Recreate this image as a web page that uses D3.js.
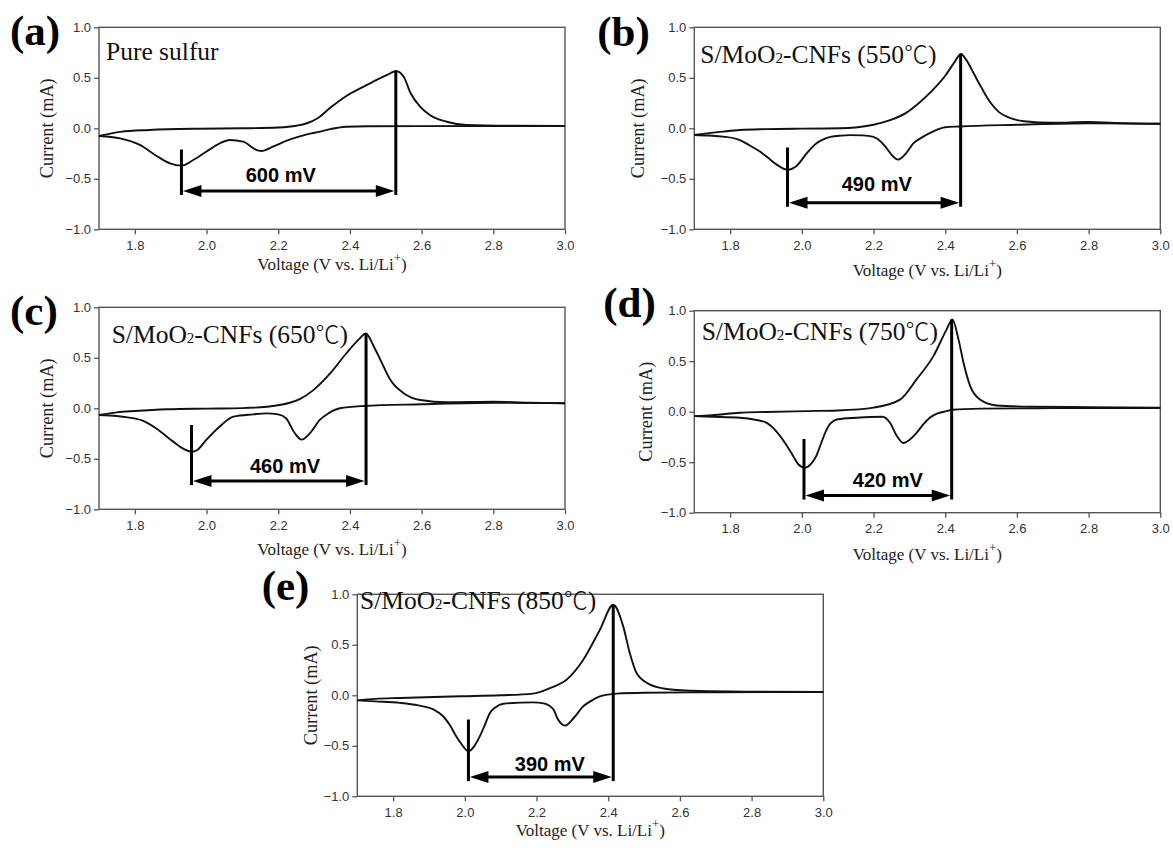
<!DOCTYPE html>
<html>
<head>
  <meta charset="utf-8">
  <title>CV curves</title>
  <script src="https://d3js.org/d3.v7.min.js"></script>
  <style>
    body { margin: 0; background: #fff; }
  </style>
</head>
<body>
  <script>
  // data: [voltage V, current mA]
  var xTicks = [1.8, 2.0, 2.2, 2.4, 2.6, 2.8, 3.0];
  var yTicks = [-1.0, -0.5, 0.0, 0.5, 1.0];
  var letters = ["(a)", "(b)", "(c)", "(d)", "(e)"];
  var samples = ["Pure sulfur", "550", "650", "750", "850"];
  var gapLabels = ["600 mV", "490 mV", "460 mV", "420 mV", "390 mV"];
  // [reduction peak V, oxidation peak V, arrow current, left tick top, label V, label current]
  var gaps = [
    [1.930, 2.528, -0.62, -0.21, 2.207, -0.53],
    [1.960, 2.443, -0.737, -0.19, 2.209, -0.617],
    [1.958, 2.445, -0.72, -0.165, 2.219, -0.64],
    [2.006, 2.418, -0.83, -0.27, 2.240, -0.745],
    [2.010, 2.414, -0.81, -0.24, 2.237, -0.75]
  ];

  var anodicA = [[1.70,-0.076],[1.76,-0.035],[1.84,-0.017],[1.98,-0.004],[2.10,0.0],[2.20,0.008],[2.25,0.025],[2.28,0.05],[2.31,0.1],[2.344,0.2],[2.39,0.32],[2.437,0.41],[2.483,0.495],[2.51,0.54],[2.528,0.567],[2.55,0.51],[2.569,0.35],[2.597,0.21],[2.624,0.13],[2.67,0.065],[2.725,0.033],[2.85,0.025],[3.0,0.023]];
  var cathodicA = [[3.0,0.023],[2.6,0.022],[2.45,0.02],[2.39,0.015],[2.35,-0.005],[2.317,-0.033],[2.28,-0.06],[2.255,-0.085],[2.222,-0.125],[2.185,-0.182],[2.153,-0.225],[2.14,-0.215],[2.102,-0.132],[2.065,-0.116],[2.037,-0.149],[2.0,-0.23],[1.963,-0.314],[1.93,-0.37],[1.898,-0.347],[1.861,-0.274],[1.814,-0.165],[1.759,-0.1],[1.70,-0.076]];

  var anodicB = [[1.70,-0.066],[1.78,-0.033],[1.827,-0.017],[1.90,-0.008],[2.0,-0.003],[2.106,0.0],[2.15,0.008],[2.20,0.035],[2.246,0.08],[2.29,0.15],[2.33,0.26],[2.36,0.36],[2.40,0.52],[2.425,0.65],[2.444,0.735],[2.46,0.67],[2.48,0.54],[2.50,0.41],[2.525,0.26],[2.55,0.16],[2.575,0.11],[2.62,0.07],[2.70,0.055],[2.80,0.062],[2.90,0.05],[3.0,0.045]];
  var cathodicB = [[3.0,0.045],[2.8,0.05],[2.6,0.035],[2.44,0.018],[2.40,0.01],[2.367,-0.03],[2.34,-0.08],[2.311,-0.15],[2.29,-0.25],[2.269,-0.31],[2.25,-0.26],[2.237,-0.2],[2.22,-0.13],[2.20,-0.085],[2.17,-0.07],[2.134,-0.068],[2.11,-0.072],[2.08,-0.085],[2.06,-0.11],[2.04,-0.15],[2.013,-0.25],[1.986,-0.37],[1.96,-0.41],[1.93,-0.36],[1.905,-0.29],[1.883,-0.23],[1.855,-0.17],[1.827,-0.116],[1.78,-0.082],[1.74,-0.072],[1.70,-0.066]];

  var anodicC = [[1.70,-0.066],[1.75,-0.04],[1.80,-0.027],[1.89,-0.01],[2.0,-0.003],[2.10,0.002],[2.20,0.03],[2.26,0.09],[2.298,0.18],[2.346,0.35],[2.39,0.545],[2.427,0.69],[2.444,0.74],[2.467,0.61],[2.485,0.48],[2.513,0.28],[2.55,0.15],[2.597,0.082],[2.67,0.06],[2.80,0.065],[2.90,0.055],[3.0,0.05]];
  var cathodicC = [[3.0,0.05],[2.8,0.055],[2.6,0.04],[2.44,0.023],[2.372,0.0],[2.34,-0.05],[2.316,-0.115],[2.29,-0.24],[2.265,-0.31],[2.245,-0.24],[2.222,-0.1],[2.20,-0.06],[2.167,-0.05],[2.13,-0.06],[2.075,-0.083],[2.037,-0.18],[2.0,-0.31],[1.975,-0.41],[1.958,-0.43],[1.935,-0.4],[1.907,-0.33],[1.86,-0.2],[1.82,-0.12],[1.78,-0.09],[1.75,-0.076],[1.70,-0.066]];

  var anodicD = [[1.70,-0.044],[1.75,-0.035],[1.827,-0.01],[1.90,-0.003],[2.014,0.006],[2.10,0.012],[2.20,0.04],[2.274,0.12],[2.32,0.32],[2.367,0.55],[2.404,0.815],[2.42,0.914],[2.437,0.716],[2.451,0.485],[2.47,0.25],[2.497,0.12],[2.543,0.062],[2.636,0.05],[2.80,0.045],[3.0,0.04]];
  var cathodicD = [[3.0,0.035],[2.7,0.035],[2.5,0.03],[2.42,0.02],[2.404,0.006],[2.377,-0.02],[2.357,-0.06],[2.34,-0.12],[2.32,-0.21],[2.30,-0.28],[2.283,-0.31],[2.265,-0.24],[2.246,-0.11],[2.225,-0.05],[2.153,-0.06],[2.10,-0.075],[2.088,-0.093],[2.075,-0.14],[2.065,-0.21],[2.052,-0.33],[2.04,-0.44],[2.025,-0.52],[2.009,-0.555],[1.99,-0.52],[1.976,-0.44],[1.955,-0.32],[1.939,-0.24],[1.92,-0.16],[1.902,-0.11],[1.87,-0.08],[1.827,-0.06],[1.75,-0.05],[1.70,-0.044]];

  var anodicE = [[1.70,-0.05],[1.75,-0.035],[1.82,-0.026],[1.99,-0.01],[2.10,0.0],[2.19,0.017],[2.237,0.07],[2.284,0.155],[2.33,0.35],[2.377,0.65],[2.414,0.896],[2.442,0.68],[2.46,0.42],[2.479,0.22],[2.517,0.105],[2.563,0.063],[2.657,0.043],[2.80,0.036],[3.0,0.033]];
  var cathodicE = [[3.0,0.033],[2.7,0.03],[2.5,0.025],[2.424,0.017],[2.377,-0.01],[2.35,-0.06],[2.33,-0.11],[2.305,-0.22],[2.28,-0.3],[2.26,-0.24],[2.247,-0.14],[2.22,-0.08],[2.19,-0.07],[2.107,-0.083],[2.085,-0.12],[2.07,-0.175],[2.055,-0.3],[2.042,-0.405],[2.025,-0.51],[2.01,-0.555],[1.99,-0.48],[1.975,-0.4],[1.959,-0.3],[1.94,-0.21],[1.912,-0.14],[1.87,-0.1],[1.819,-0.075],[1.75,-0.06],[1.70,-0.05]];

  var anodic = [anodicA, anodicB, anodicC, anodicD, anodicE];
  var cathodic = [cathodicA, cathodicB, cathodicC, cathodicD, cathodicE];

  // page layout (plot-area corner of each panel, label offsets)
  var W = 466, H = 202;
  var layout = [
    {left: 99, top: 27.3, letterDx: -89, letterDy: 18, titleDx: 7, titleDy: 33, ylabDx: -52, xlabDy: 41},
    {left: 694.3, top: 27.3, letterDx: -97, letterDy: 19, titleDx: 6, titleDy: 36, ylabDx: -57, xlabDy: 47},
    {left: 99, top: 307.3, letterDx: -89, letterDy: 18, titleDx: 12.7, titleDy: 36, ylabDx: -52, xlabDy: 46},
    {left: 694.3, top: 310.7, letterDx: -91, letterDy: 6, titleDx: 7.4, titleDy: 29, ylabDx: -49, xlabDy: 47},
    {left: 357.3, top: 594.3, letterDx: -95.6, letterDy: 6, titleDx: 2.7, titleDy: 15, ylabDx: -47, xlabDy: 40}
  ];

  var serif = "'Liberation Serif', 'Times New Roman', serif";
  var sans = "'Liberation Sans', Arial, sans-serif";

  var svg = d3.select("body").append("svg").attr("width", 1173).attr("height", 850);

  var x = d3.scaleLinear().domain([1.7, 3.0]).range([0, W]);
  var y = d3.scaleLinear().domain([-1, 1]).range([H, 0]);
  var line = d3.line().x(function(d) { return x(d[0]); }).y(function(d) { return y(d[1]); }).curve(d3.curveMonotoneX);

  layout.forEach(function(L, k) {
    var g = svg.append("g").attr("transform", "translate(" + L.left + "," + L.top + ")");

    // axes
    var ax = g.append("g").attr("transform", "translate(0," + H + ")")
      .call(d3.axisBottom(x).tickValues(xTicks).tickFormat(d3.format(".1f")).tickSize(5).tickSizeOuter(0).tickPadding(6));
    var ay = g.append("g")
      .call(d3.axisLeft(y).tickValues(yTicks).tickFormat(d3.format(".1f")).tickSize(5).tickSizeOuter(0).tickPadding(3));
    [ax, ay].forEach(function(a) {
      a.select(".domain").remove();
      a.selectAll("line").attr("stroke", "#555").attr("stroke-width", 1.3);
      a.selectAll("text").attr("font-family", sans).attr("font-size", 13).attr("fill", "#333");
    });
    g.append("rect").attr("width", W).attr("height", H)
      .attr("fill", "none").attr("stroke", "#555").attr("stroke-width", 1.4);

    // CV loop
    [anodic[k], cathodic[k]].forEach(function(c) {
      g.append("path").datum(c).attr("d", line)
        .attr("fill", "none").attr("stroke", "#111").attr("stroke-width", 1.9);
    });

    // peak separation annotation
    var gp = gaps[k];
    var x1 = x(gp[0]), x2 = x(gp[1]), ya = y(gp[2]);
    var ox = anodic[k].reduce(function(m, d) { return d[1] > m[1] ? d : m; });
    var bottom = y(gp[2] - 0.04);
    g.append("line").attr("x1", x1).attr("x2", x1).attr("y1", y(gp[3])).attr("y2", bottom)
      .attr("stroke", "#000").attr("stroke-width", 3);
    g.append("line").attr("x1", x2).attr("x2", x2).attr("y1", y(ox[1])).attr("y2", bottom)
      .attr("stroke", "#000").attr("stroke-width", 3);
    g.append("line").attr("x1", x1 + 10).attr("x2", x2 - 10).attr("y1", ya).attr("y2", ya)
      .attr("stroke", "#000").attr("stroke-width", 3);
    g.append("path").attr("d", "M" + (x1 + 1.5) + "," + ya + "L" + (x1 + 20) + "," + (ya - 6) + "L" + (x1 + 20) + "," + (ya + 6) + "Z")
      .attr("fill", "#000");
    g.append("path").attr("d", "M" + (x2 - 1.5) + "," + ya + "L" + (x2 - 20) + "," + (ya - 6) + "L" + (x2 - 20) + "," + (ya + 6) + "Z")
      .attr("fill", "#000");
    g.append("text").attr("x", x(gp[4])).attr("y", y(gp[5]))
      .attr("text-anchor", "middle").attr("font-family", sans).attr("font-weight", "bold")
      .attr("font-size", 20).attr("fill", "#000").text(gapLabels[k]);

    // sample title
    var t = g.append("text").attr("x", L.titleDx).attr("y", L.titleDy)
      .attr("font-family", serif).attr("font-size", 25.5).attr("fill", "#111");
    if (k === 0) {
      t.text(samples[k]);
    } else {
      t.append("tspan").text("S/MoO");
      t.append("tspan").attr("font-size", 15).text("2");
      t.append("tspan").text("-CNFs (" + samples[k]);
      t.append("tspan").attr("font-family", "'Noto Sans CJK SC', sans-serif").attr("font-weight", 300)
        .attr("font-size", 24).text("\u2103");
      t.append("tspan").text(")");
    }

    // panel letter
    g.append("text").attr("x", L.letterDx).attr("y", L.letterDy)
      .attr("font-family", serif).attr("font-weight", "bold").attr("font-size", 43)
      .attr("fill", "#000").text(letters[k]);

    // axis titles
    g.append("text").attr("transform", "translate(" + L.ylabDx + "," + (H / 2) + ") rotate(-90)")
      .attr("text-anchor", "middle").attr("dy", "0.35em")
      .attr("font-family", serif).attr("font-size", 18).attr("fill", "#222")
      .attr("textLength", 100).attr("lengthAdjust", "spacingAndGlyphs").text("Current (mA)");
    var xl = g.append("text").attr("x", W / 2).attr("y", H + L.xlabDy)
      .attr("text-anchor", "middle").attr("font-family", serif).attr("font-size", 17).attr("fill", "#222");
    xl.append("tspan").text("Voltage (V vs. Li/Li");
    xl.append("tspan").attr("font-size", 13).attr("dy", -8).text("+");
    xl.append("tspan").attr("dy", 8).text(")");
  });
  </script>
</body>
</html>
